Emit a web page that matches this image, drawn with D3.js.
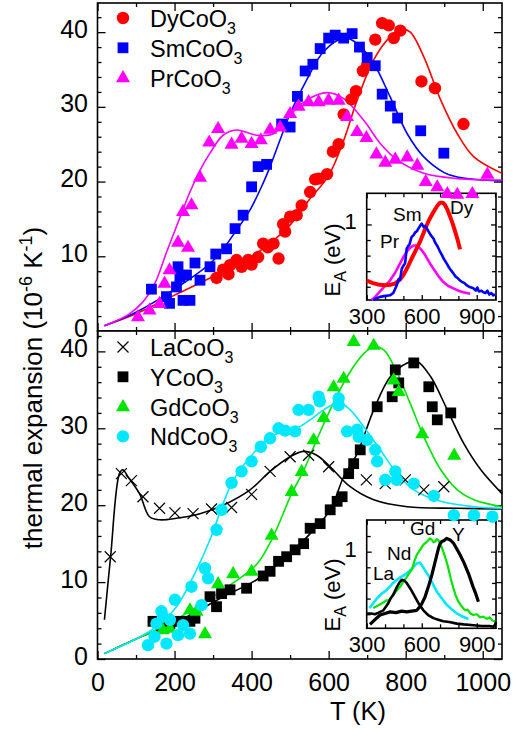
<!DOCTYPE html>
<meta charset="utf-8">
<script src="https://d3js.org/d3.v7.min.js"></script>
<style>
  body { margin: 0; background: #fff; }
  text { font-family: "Liberation Sans", Arial, Helvetica, sans-serif; }
</style>
<div id="my_dataviz"></div>
<script>

// ---------- data: thermal expansion (10^-6 K^-1) vs T (K) ----------
// top panel, measured points
var dyCoO3 = [[309,7.1],[326,8.2],[340,7.6],[344,8.8],[361,9.5],[374,8.6],[391,9.5],[400,8.9],[417,9.9],[430,11.7],[442,11.2],[457,11.7],[470,9.7],[482,14.3],[487,13.3],[500,15.3],[517,15.5],[530,16.8],[552,18.6],[565,20.3],[574,20.4],[596,21.0],[611,24.0],[626,25.0],[639,29.0],[659,31.0],[671,32.1],[689,34.8],[700,35.6],[721,39.0],[739,41.2],[756,40.9],[769,39.2],[786,40.2],[841,33.4],[876,32.5],[950,27.7]];
var smCoO3 = [[140,5.6],[179,4.6],[187,3.7],[205,5.9],[209,8.6],[214,7.2],[222,4.1],[231,7.5],[240,4.1],[253,9.1],[266,6.8],[292,8.6],[307,10.3],[335,11.0],[357,13.7],[378,15.5],[400,19.3],[417,22.0],[439,22.3],[478,27.7],[500,27.3],[519,31.4],[539,34.8],[559,35.7],[578,37.8],[600,39.2],[617,39.6],[639,39.2],[661,39.8],[680,38.0],[700,36.6],[721,35.5],[739,31.7],[760,30.1],[779,28.5],[839,26.8],[899,23.8]];
var prCoO3 = [[105,1.9],[135,2.8],[161,3.7],[174,6.4],[187,8.2],[209,11.9],[222,16.0],[235,11.2],[244,16.9],[266,20.6],[290,25.3],[313,27.1],[348,25.0],[374,25.8],[400,25.1],[424,25.6],[448,27.0],[474,27.3],[500,29.1],[522,30.1],[548,30.7],[574,30.7],[600,30.9],[626,30.9],[648,28.7],[674,26.7],[698,25.9],[724,23.7],[747,22.6],[773,23.0],[804,23.3],[830,22.2],[852,20.0],[882,19.3],[908,18.4],[934,18.3],[973,18.4],[1012,21.0]];
// top panel, fits
var dyFit = [[18,0.7],[100,2.3],[200,4.8],[300,7.3],[400,10.0],[450,11.8],[500,14.2],[550,17.6],[600,20.8],[639,25.5],[674,30.9],[717,36.3],[760,39.4],[790,40.4],[812,40.0],[847,36.7],[891,30.9],[934,26.4],[977,23.3],[1050,21.1]];
var smFit = [[18,0.7],[100,2.5],[200,5.6],[300,9.4],[361,13.5],[396,16.2],[430,19.8],[448,22.0],[474,25.6],[500,29.1],[543,33.6],[587,37.4],[639,39.2],[674,38.5],[717,35.8],[760,31.3],[804,26.4],[847,23.3],[900,21.2],[934,20.6],[1000,20.2],[1050,20.1]];
var prFit = [[18,0.7],[80,2.2],[118,3.9],[150,6.5],[179,10.5],[214,15.2],[240,18.6],[266,21.5],[292,23.8],[326,26.2],[361,26.9],[413,26.2],[457,26.4],[500,28.9],[543,30.9],[596,31.9],[639,31.1],[691,28.2],[734,25.1],[778,22.9],[847,21.1],[934,20.4],[1050,20.2]];

// bottom panel, measured points
var laCoO3 = [[33,13.3],[62,24.1],[88,23.2],[118,21.1],[161,19.6],[201,19.0],[248,18.9],[296,19.5],[348,19.7],[400,21.4],[448,24.4],[500,26.3],[548,26.5],[600,25.0],[698,23.3],[747,22.8],[799,23.3],[847,22.0],[899,22.4]];
var yCoO3 = [[144,4.9],[166,4.2],[188,4.6],[214,4.9],[240,4.9],[253,5.3],[292,8.1],[309,6.8],[322,8.5],[344,9.0],[387,9.2],[430,10.8],[448,11.4],[470,12.7],[491,13.3],[513,14.2],[535,15.0],[552,17.0],[578,17.6],[604,19.4],[622,20.5],[635,21.1],[652,24.1],[665,25.4],[682,27.2],[726,32.8],[765,34.1],[773,37.6],[782,35.9],[821,38.5],[860,35.4],[869,32.8],[882,31.1],[917,32.0]];
var gdCoO3 = [[170,3.8],[188,4.0],[240,6.4],[257,6.2],[279,3.3],[313,9.8],[352,11.1],[400,11.4],[452,16.1],[504,21.8],[530,24.4],[561,28.5],[587,31.4],[613,35.4],[639,36.5],[665,41.3],[717,40.8],[769,36.3],[782,34.8],[843,29.3],[926,26.5]];
var ndCoO3 = [[131,1.8],[148,2.9],[153,4.6],[166,6.2],[170,5.5],[179,2.0],[188,5.1],[201,7.7],[209,3.1],[222,4.4],[240,3.3],[244,9.4],[270,7.0],[279,11.8],[287,10.5],[309,16.8],[322,19.4],[348,22.9],[374,24.4],[400,25.7],[424,27.6],[448,28.7],[470,30.0],[487,29.7],[513,29.6],[522,32.4],[548,32.4],[574,34.1],[577,33.5],[626,33.9],[626,33.0],[648,29.6],[674,29.8],[678,28.9],[700,28.5],[721,27.2],[726,25.7],[747,23.3],[773,24.4],[777,23.3],[821,22.8],[873,21.2],[925,18.7],[977,18.7],[1025,18.5]];
// bottom panel, fits
var laFit = [[18,5.1],[34,13.3],[57,24.1],[66,24.6],[79,23.7],[109,21.5],[135,18.5],[161,18.1],[205,18.3],[266,18.9],[326,20.0],[396,22.0],[448,24.4],[500,26.3],[535,27.0],[569,26.5],[604,25.0],[656,22.4],[717,20.7],[804,19.8],[934,19.6],[1050,19.5]];
var yFit = [[18,0.7],[100,2.6],[160,3.9],[240,5.7],[326,8.1],[413,10.3],[500,13.7],[552,16.3],[604,19.4],[639,23.7],[674,26.7],[717,32.4],[760,36.7],[804,38.5],[830,38.7],[865,36.7],[908,32.4],[951,28.0],[995,24.6],[1050,21.5]];
var gdFit = [[18,0.7],[100,2.6],[153,3.8],[240,6.2],[326,9.0],[413,12.3],[452,15.5],[504,21.5],[535,24.5],[569,28.5],[604,32.4],[648,36.7],[691,39.7],[717,40.6],[743,40.2],[778,37.2],[812,33.2],[847,28.9],[891,24.6],[934,22.0],[977,20.7],[1050,19.8]];
var ndFit = [[18,0.7],[100,2.6],[153,4.2],[205,6.8],[257,11.6],[292,15.5],[326,20.2],[348,22.8],[370,24.6],[404,26.7],[439,28.5],[482,29.6],[517,30.0],[552,31.1],[587,32.4],[626,33.3],[656,32.4],[691,30.2],[734,27.2],[778,24.1],[821,22.0],[891,20.5],[977,19.8],[1050,19.6]];

// insets: activation energy E_A (eV) vs T (K)
var dyEA = [[300,0.28],[330,0.25],[360,0.23],[400,0.22],[430,0.225],[455,0.24],[480,0.29],[500,0.35],[525,0.46],[545,0.56],[570,0.68],[591,0.78],[610,0.89],[627,0.99],[645,1.08],[664,1.16],[685,1.24],[700,1.28],[715,1.28],[727,1.25],[742,1.18],[755,1.10],[770,1.00],[782,0.91],[796,0.80],[809,0.68]];
var smEA = [[336,0.03],[350,0.05],[373,0.07],[395,0.08],[427,0.09],[445,0.12],[464,0.22],[475,0.30],[482,0.29],[491,0.43],[500,0.47],[509,0.50],[513,0.58],[518,0.69],[525,0.72],[533,0.74],[540,0.80],[545,0.84],[555,0.86],[565,0.90],[573,0.91],[585,0.96],[593,0.99],[600,1.01],[610,0.97],[618,0.98],[627,0.95],[640,0.90],[650,0.86],[664,0.82],[675,0.76],[686,0.72],[700,0.65],[712,0.60],[720,0.56],[736,0.50],[748,0.45],[760,0.41],[773,0.37],[785,0.33],[797,0.31],[809,0.28],[820,0.26],[832,0.25],[845,0.22],[858,0.20],[870,0.19],[882,0.18],[895,0.15],[903,0.19],[912,0.14],[925,0.15],[936,0.13],[948,0.12],[958,0.15],[968,0.10],[980,0.12],[990,0.09],[1000,0.10]];
var prEA = [[327,0.03],[350,0.08],[373,0.14],[400,0.21],[427,0.28],[455,0.38],[482,0.50],[500,0.58],[518,0.65],[536,0.70],[555,0.73],[570,0.73],[582,0.71],[600,0.67],[618,0.61],[640,0.52],[664,0.43],[690,0.34],[718,0.26],[745,0.21],[773,0.18],[800,0.15],[827,0.13],[864,0.11]];
var gdEA = [[336,0.28],[360,0.31],[391,0.35],[410,0.38],[420,0.37],[445,0.45],[470,0.52],[485,0.56],[500,0.62],[515,0.66],[525,0.70],[536,0.74],[548,0.78],[560,0.88],[573,0.96],[590,1.02],[609,1.09],[625,1.12],[645,1.17],[655,1.15],[665,1.12],[673,1.13],[682,1.16],[691,1.15],[705,1.08],[718,1.00],[732,0.90],[745,0.79],[758,0.66],[773,0.53],[785,0.44],[800,0.36],[815,0.31],[836,0.25],[850,0.26],[865,0.21],[882,0.19],[900,0.20],[918,0.16],[936,0.17],[955,0.14],[970,0.16],[985,0.12],[1000,0.11]];
var ndEA = [[315,0.28],[335,0.34],[355,0.40],[380,0.46],[409,0.51],[436,0.58],[464,0.64],[490,0.68],[518,0.72],[545,0.78],[573,0.85],[590,0.86],[600,0.83],[618,0.76],[636,0.70],[660,0.59],[682,0.49],[710,0.40],[736,0.32],[765,0.26],[791,0.21],[822,0.17],[855,0.14]];
var laEA = [[300,0.21],[325,0.21],[345,0.20],[365,0.22],[391,0.25],[415,0.33],[430,0.40],[445,0.45],[465,0.55],[480,0.61],[491,0.64],[505,0.63],[518,0.60],[540,0.52],[564,0.42],[585,0.33],[609,0.25],[635,0.19],[664,0.15],[690,0.13],[718,0.11],[750,0.10],[791,0.08],[830,0.07],[882,0.06],[930,0.05],[970,0.05],[991,0.04],[1000,0.07],[1005,0.10]];
var yEA = [[318,0.07],[345,0.13],[373,0.19],[400,0.21],[427,0.23],[460,0.22],[490,0.24],[518,0.23],[545,0.24],[573,0.25],[595,0.31],[618,0.42],[636,0.55],[655,0.70],[672,0.86],[691,1.04],[700,1.10],[709,1.13],[720,1.14],[736,1.17],[755,1.15],[773,1.11],[790,1.04],[809,0.96],[830,0.86],[855,0.72],[880,0.55],[895,0.46],[909,0.36]];

// ticks
var tMajor = [0,200,400,600,800,1000];
var tMinor = [100,300,500,700,900];
var aMajor = [0,10,20,30,40];
var aMinor = [2,4,6,8,12,14,16,18,22,24,26,28,32,34,36,38,42];
var insetT = [300,600,900];
var insetTMinor = [400,500,700,800,1000];
var insetE = [1];
var insetEMinor = [0.2,0.4,0.6,0.8,1.2];

var RED = "#ff0000", BLUE = "#0000ff", MAG = "#ff00ff", GREEN = "#00e600", CYAN = "#00e8ff";

// ---------- svg ----------
var svg = d3.select("#my_dataviz")
  .append("svg")
    .attr("width", 523)
    .attr("height", 731);

var x = d3.scaleLinear().domain([0, 1050]).range([97.5, 502]);
var yTop = d3.scaleLinear().domain([0, 43.9]).range([331, 3]);
var yBot = d3.scaleLinear().domain([0, 42.65]).range([659, 331]);

// draw inward ticks on one side of a box
function ticks(axisFn, scale, pos, vals, len, fmt, pad, fs, dy) {
  var g = svg.append("g")
    .attr("transform", pos)
    .call(axisFn(scale).tickValues(vals).tickSize(-len).tickPadding(pad || 3).tickFormat(fmt || ""));
  g.select(".domain").remove();
  g.selectAll("line").attr("stroke", "#000").attr("stroke-width", 1.3);
  g.selectAll("text")
    .attr("fill", "#000")
    .style("font-size", (fs || 25) + "px")
    .style("font-family", "'Liberation Sans', Arial, sans-serif");
  if (dy) g.selectAll("text").attr("dy", dy);
  return g;
}

function frame(xs, ys, xMaj, xMin, yMaj, yMin, big, small, xLab, yLab, fs) {
  var x0 = xs.range()[0], x1 = xs.range()[1], y0 = ys.range()[0], y1 = ys.range()[1];
  svg.append("rect")
    .attr("x", x0).attr("y", y1)
    .attr("width", x1 - x0).attr("height", y0 - y1)
    .attr("fill", "#fff").attr("stroke", "#000").attr("stroke-width", 1.6);
  ticks(d3.axisBottom, xs, "translate(0," + y0 + ")", xMaj, big, xLab ? d3.format("d") : "", xLab, fs);
  ticks(d3.axisBottom, xs, "translate(0," + y0 + ")", xMin, small);
  ticks(d3.axisTop, xs, "translate(0," + y1 + ")", xMaj, big);
  ticks(d3.axisTop, xs, "translate(0," + y1 + ")", xMin, small);
  ticks(d3.axisLeft, ys, "translate(" + x0 + ",0)", yMaj, big, yLab ? d3.format("d") : "", yLab, fs, "0.2em");
  ticks(d3.axisLeft, ys, "translate(" + x0 + ",0)", yMin, small);
  ticks(d3.axisRight, ys, "translate(" + x1 + ",0)", yMaj, big);
  ticks(d3.axisRight, ys, "translate(" + x1 + ",0)", yMin, small);
}

var smooth = d3.curveCatmullRom.alpha(0.5);

function curve(data, xs, ys, color, w, c) {
  svg.append("path")
    .datum(data)
    .attr("fill", "none")
    .attr("stroke", color)
    .attr("stroke-width", w)
    .attr("stroke-linejoin", "round")
    .attr("d", d3.line()
      .curve(c || d3.curveLinear)
      .x(function(d) { return xs(d[0]); })
      .y(function(d) { return ys(d[1]); }));
}

function markers(data, xs, ys, type, color) {
  var sel = svg.append("g").selectAll(null).data(data).enter();
  if (type == "circle") {
    sel.append("circle")
      .attr("cx", function(d) { return xs(d[0]); })
      .attr("cy", function(d) { return ys(d[1]); })
      .attr("r", 6.2)
      .attr("fill", color);
  } else if (type == "square") {
    sel.append("rect")
      .attr("x", function(d) { return xs(d[0]) - 5.4; })
      .attr("y", function(d) { return ys(d[1]) - 5.4; })
      .attr("width", 10.8).attr("height", 10.8)
      .attr("fill", color);
  } else if (type == "triangle") {
    sel.append("path")
      .attr("d", d3.symbol(d3.symbolTriangle, 85))
      .attr("transform", function(d) { return "translate(" + xs(d[0]) + "," + (ys(d[1]) + 0.5) + ")"; })
      .attr("fill", color);
  } else {
    sel.append("path")
      .attr("d", "M-5.5,-5.5L5.5,5.5M-5.5,5.5L5.5,-5.5")
      .attr("transform", function(d) { return "translate(" + xs(d[0]) + "," + ys(d[1]) + ")"; })
      .attr("fill", "none")
      .attr("stroke", color)
      .attr("stroke-width", 1.2);
  }
}

// ---------- main frames ----------
frame(x, yTop, tMajor, tMinor, aMajor, aMinor, 8, 4, 0, 9.5, 25);
frame(x, yBot, tMajor, tMinor, aMajor, aMinor, 8, 4, 14, 9.5, 25);

// ---------- insets ----------
var ixTop = d3.scaleLinear().domain([300, 1005]).range([366.7, 496]);
var iyTop = d3.scaleLinear().domain([0.03, 1.4]).range([300, 193.3]);
var ixBot = d3.scaleLinear().domain([300, 1005]).range([366.7, 496]);
var iyBot = d3.scaleLinear().domain([0.02, 1.405]).range([628.3, 520]);

frame(ixTop, iyTop, insetT, insetTMinor, insetE, insetEMinor, 5, 4, 8.5, 10, 22);
frame(ixBot, iyBot, insetT, insetTMinor, insetE, insetEMinor, 5, 4, 8.5, 10, 22);

curve(prEA, ixTop, iyTop, MAG, 2.6);
curve(dyEA, ixTop, iyTop, RED, 4);
curve(smEA, ixTop, iyTop, BLUE, 2.6);

curve(ndEA, ixBot, iyBot, CYAN, 2.6);
curve(gdEA, ixBot, iyBot, GREEN, 2.2);
curve(laEA, ixBot, iyBot, "#000", 2.6);
curve(yEA, ixBot, iyBot, "#000", 3.2);

// inset labels
function label(txt, px, py, fs) {
  svg.append("text").attr("x", px).attr("y", py)
    .style("font-size", fs + "px").text(txt);
}
label("Sm", 393, 221, 19);
label("Dy", 450, 214, 19);
label("Pr", 380, 248, 19);
label("Gd", 410, 535, 19);
label("Y", 452, 541, 19);
label("Nd", 387, 560, 19);
label("La", 373, 580, 19);

function eaLabel(cy) {
  var t = svg.append("text")
    .attr("transform", "translate(340," + cy + ") rotate(-90)")
    .attr("text-anchor", "middle")
    .style("font-size", "22px");
  t.append("tspan").text("E");
  t.append("tspan").attr("dy", 6).style("font-size", "16px").text("A");
  t.append("tspan").attr("dy", -6).text(" (eV)");
}
eaLabel(260);
eaLabel(595);

// ---------- top panel data ----------
curve(dyFit, x, yTop, RED, 1.6, smooth);
curve(smFit, x, yTop, BLUE, 1.6, smooth);
curve(prFit, x, yTop, MAG, 1.6, smooth);
markers(dyCoO3, x, yTop, "circle", RED);
markers(smCoO3, x, yTop, "square", BLUE);
markers(prCoO3, x, yTop, "triangle", MAG);

// ---------- bottom panel data ----------
curve(laFit, x, yBot, "#000", 1.6, smooth);
curve(yFit, x, yBot, "#000", 1.6, smooth);
curve(gdFit, x, yBot, GREEN, 1.6, smooth);
curve(ndFit, x, yBot, CYAN, 1.6, smooth);
markers(laCoO3, x, yBot, "cross", "#000");
markers(yCoO3, x, yBot, "square", "#000");
markers(gdCoO3, x, yBot, "triangle", GREEN);
markers(ndCoO3, x, yBot, "circle", CYAN);

// ---------- legends ----------
var ident = function(v) { return v; };
function legend(items, top) {
  items.forEach(function(it, i) {
    var cy = top + i * 29.8;
    markers([[123, cy]], ident, ident, it[1], it[2]);
    var t = svg.append("text").attr("x", 150).attr("y", cy + 9).style("font-size", "23.5px");
    t.append("tspan").text(it[0]);
    t.append("tspan").attr("dy", 7).style("font-size", "16px").text("3");
  });
}
legend([["DyCoO", "circle", RED], ["SmCoO", "square", BLUE], ["PrCoO", "triangle", MAG]], 18);
legend([["LaCoO", "cross", "#000"], ["YCoO", "square", "#000"], ["GdCoO", "triangle", GREEN], ["NdCoO", "circle", CYAN]], 347);

// ---------- axis titles ----------
svg.append("text")
  .attr("x", 358).attr("y", 720)
  .attr("text-anchor", "middle")
  .style("font-size", "25.5px")
  .text("T (K)");

var yt = svg.append("text")
  .attr("transform", "translate(42,388) rotate(-90)")
  .attr("text-anchor", "middle")
  .style("font-size", "26px");
yt.append("tspan").text("thermal expansion (10");
yt.append("tspan").attr("dy", -10).style("font-size", "18px").text("-6");
yt.append("tspan").attr("dy", 10).text(" K");
yt.append("tspan").attr("dy", -10).style("font-size", "18px").text("-1");
yt.append("tspan").attr("dy", 10).text(")");

</script>
